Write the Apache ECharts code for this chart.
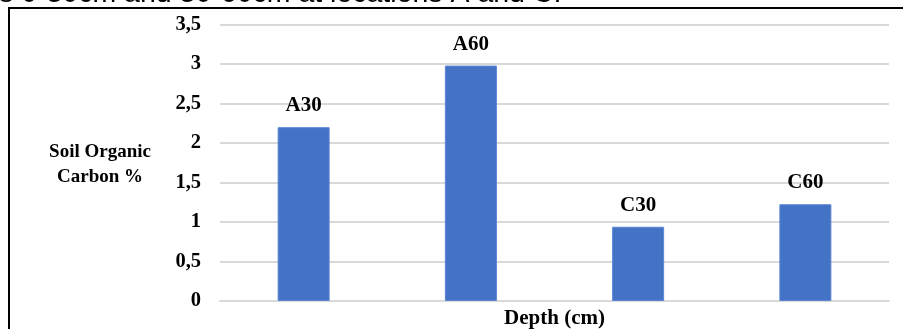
<!DOCTYPE html>
<html>
<head>
<meta charset="utf-8">
<script src="https://cdn.jsdelivr.net/npm/echarts@6/dist/echarts.min.js"></script>
<style>html,body{margin:0;padding:0;background:#fff;}#c{width:903px;height:329px;}</style>
</head>
<body>
<div id="c"></div>
<script>
var categories = ['A30', 'A60', 'C30', 'C60'];
var values = [2.20, 2.98, 0.94, 1.225];
var yTicks = [0, 0.5, 1, 1.5, 2, 2.5, 3, 3.5];
var yTitle = 'Soil Organic\nCarbon %';
var xTitle = 'Depth (cm)';
var caption = 's 0-30cm and 30-60cm at locations A and C.';

var chart = echarts.init(document.getElementById('c'), null, {renderer: 'canvas'});
var serif = '"Liberation Serif", "Times New Roman", serif';
chart.setOption({
  animation: false,
  grid: {left: 220, right: 14, top: 24.5, bottom: 28, containLabel: false, outerBoundsMode: 'none'},
  xAxis: {
    type: 'category',
    data: categories,
    axisLine: {lineStyle: {color: '#d9d9d9', width: 2}},
    axisTick: {show: false},
    axisLabel: {show: false},
    name: xTitle,
    nameLocation: 'middle',
    nameGap: 7,
    nameTextStyle: {fontFamily: serif, fontWeight: 'bold', fontSize: 21, color: '#000'}
  },
  yAxis: {
    type: 'value',
    min: yTicks[0],
    max: yTicks[yTicks.length - 1],
    interval: 0.5,
    axisLine: {show: false},
    axisTick: {show: false},
    splitLine: {lineStyle: {color: '#d9d9d9', width: 2}},
    axisLabel: {
      margin: 19,
      fontFamily: serif, fontWeight: 'bold', fontSize: 20.5, color: '#000',
      formatter: function (v) { return String(v).replace('.', ','); }
    }
  },
  series: [{
    type: 'bar',
    data: values,
    barWidth: 52,
    itemStyle: {color: '#4472C4', borderColor: '#5b86d4', borderWidth: 1},
    label: {
      show: true,
      position: 'top',
      distance: 11,
      fontFamily: serif, fontWeight: 'bold', fontSize: 21, color: '#000',
      formatter: function (p) { return p.name; }
    }
  }],
  graphic: [
    {type: 'text', x: 100, y: 165, style: {text: yTitle, fontFamily: serif, fontWeight: 'bold', fontSize: 19, lineHeight: 25, fill: '#000', align: 'center', verticalAlign: 'middle'}},
    {type: 'text', x: -1, y: 8.5, z: 0, style: {text: caption, fontFamily: '"Liberation Sans", Arial, sans-serif', fontSize: 28.5, fill: '#000', align: 'left', verticalAlign: 'bottom'}},
    {type: 'line', z: 10, shape: {x1: 8, y1: 8, x2: 903, y2: 8}, style: {stroke: '#000', lineWidth: 2}},
    {type: 'line', z: 10, shape: {x1: 9, y1: 7, x2: 9, y2: 329}, style: {stroke: '#000', lineWidth: 2}}
  ]
});
</script>
</body>
</html>
